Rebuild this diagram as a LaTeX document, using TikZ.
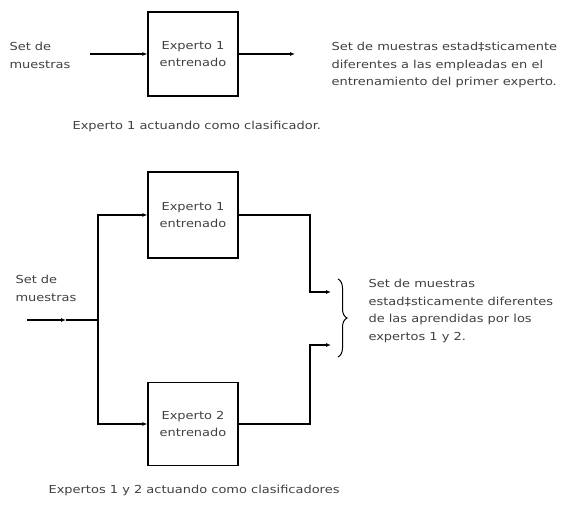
\documentclass[tikz,border=0pt]{standalone}
\usepackage{fontspec}
\setmainfont{DejaVu Sans}[FakeStretch=1.18]
\usetikzlibrary{arrows.meta,decorations.pathreplacing}
\begin{document}
\begin{tikzpicture}[x=1pt,y=-1pt,
  line width=1.1pt,
  arr/.style={-{Latex[length=5pt,width=4pt]}},
  box/.style={draw,line width=1.2pt,minimum width=90pt,inner sep=0pt,align=center,text=black!75,font=\fontsize{11}{17}\selectfont},
  lbl/.style={anchor=north west,align=left,inner sep=0pt,text=black!75,font=\fontsize{11}{17.5}\selectfont}]
\useasboundingbox (0,0) rectangle (566,505);
% top diagram
\node[box,minimum height=84pt] (b1) at (193,54) {Experto 1\\entrenado};
\coordinate (in1) at (90,54);
\coordinate (out1) at (295,54);
\draw[arr] (in1) -- (b1.west);
\draw[arr] (b1.east) -- (out1);
\node[lbl] (t1) at (9,42) {Set de\\muestras};
\node[lbl] (t2) at (331,42) {Set de muestras estad‡sticamente\\diferentes a las empleadas en el\\entrenamiento del primer experto.};
\node[lbl] (c1) at (72,121) {Experto 1 actuando como clasificador.};
% bottom diagram
\node[box,minimum height=86pt] (bA) at (193,215) {Experto 1\\entrenado};
\node[box,minimum height=83pt] (bB) at (193,424) {Experto 2\\entrenado};
\coordinate (in2) at (27,320);
\coordinate (mid) at (66,320);
\coordinate (sp) at (98,320);
\draw[arr] (in2) -- (mid);
\draw (mid) -- (sp);
\draw[arr] (sp) |- (bA.west);
\draw[arr] (sp) |- (bB.west);
\coordinate (ja) at (310,292);
\coordinate (ea) at (331,292);
\coordinate (jb) at (310,345);
\coordinate (eb) at (331,345);
\draw[arr] (bA.east) -| (ja) -- (ea);
\draw[arr] (bB.east) -| (jb) -- (eb);
\coordinate (brt) at (338,279);
\coordinate (brb) at (338,357);
\draw[line width=1pt,decorate,decoration={brace,amplitude=9pt}] (brt) -- (brb);
\node[lbl] (t3) at (15,275) {Set de\\muestras};
\node[lbl] (t4) at (368,279) {Set de muestras\\estad‡sticamente diferentes\\de las aprendidas por los\\expertos 1 y 2.};
\node[lbl] (c2) at (48,485) {Expertos 1 y 2 actuando como clasificadores};
\end{tikzpicture}
\end{document}
